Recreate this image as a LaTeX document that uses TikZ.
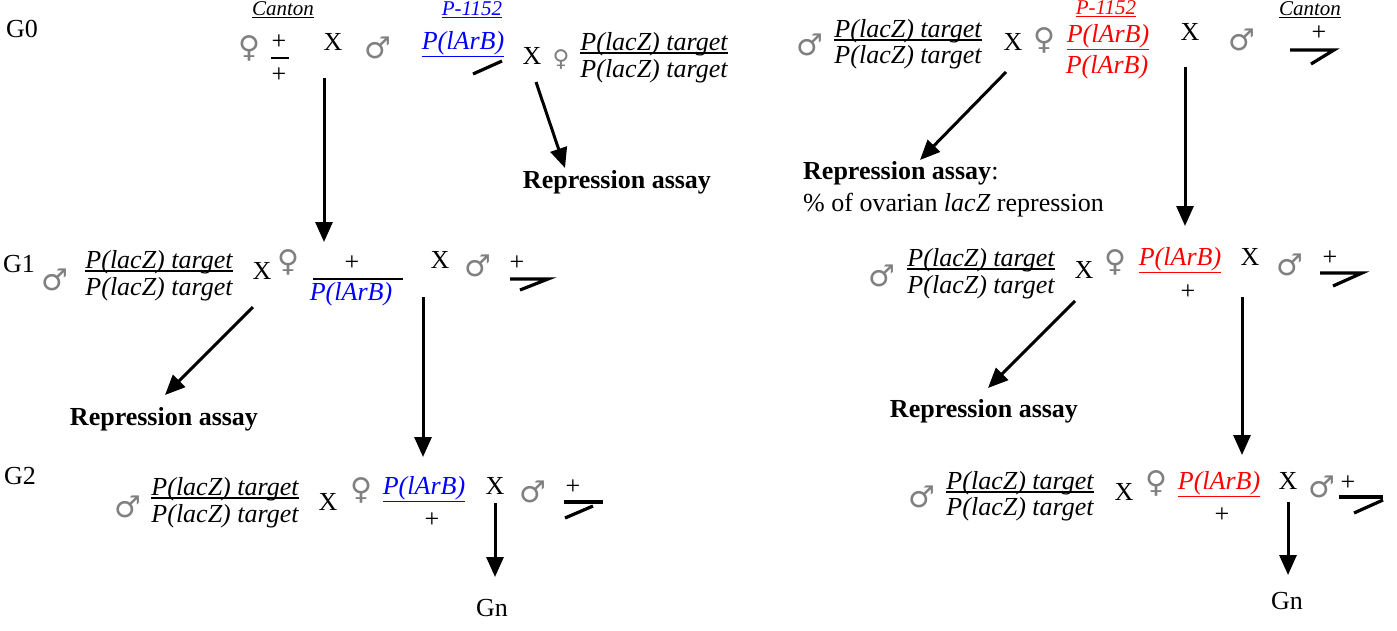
\documentclass[tikz,border=0pt]{standalone}
\usepackage{fontspec}
\setmainfont{Liberation Serif}
\newfontfamily\symf{DejaVu Sans}
\usetikzlibrary{arrows.meta}
\newcommand\fmain{\fontsize{26}{30}\selectfont}
\newcommand\fsmall{\fontsize{21}{24}\selectfont}
\begin{document}
\begin{tikzpicture}[x=1pt,y=-1pt,
  tx/.style={inner sep=0pt, font=\fmain, text height=0.69em, text depth=0.22em},
  itx/.style={tx, font=\fmain\itshape},
  sm/.style={inner sep=0pt, font=\fsmall\itshape, text height=0.69em, text depth=0.22em},
  bfx/.style={tx, font=\fmain\bfseries},
  sx/.style={inner sep=0pt, font=\symf\fontsize{30}{32}\selectfont, text=black!50},
  sxs/.style={sx, font=\symf\fontsize{23}{25}\selectfont},
  arr/.style={line width=3pt, -{Triangle[length=20pt,width=17pt]}},
  bar/.style={line width=1.7pt},
  bal/.style={line width=3.2pt},
  blu/.style={text=blue},
  rd/.style={text=red}]
\fill[white] (0,0) rectangle (1397,630);
\useasboundingbox (0,0) rectangle (1397,630);

% ---------- G0 left ----------
\node[tx] (g0) at (22,35) {G0};
\node[sm] (can1) at (283,13) {\underline{Canton}};
\node[sx] (fe0) at (249,48) {♀};
\node[tx] (p0a) at (279,47) {+};
\draw[bar] (271,58) -- (289,58);
\node[tx] (p0b) at (279,80) {+};
\node[tx] (x0a) at (333,48) {X};
\node[sx] (ma0) at (378,48) {♂};
\node[sm,blu] (pb1) at (472,13) {\underline{P-1152}};
\node[itx,blu] (pl1) at (463,47) {\underline{P(lArB)}};
\draw[bal] (473,74) -- (502,61);
\node[tx] (x0b) at (532,62) {X};
\node[sxs] (fe0b) at (561,60) {♀};
\node[itx] (fr0n) at (654,48) {P(lacZ) target};
\node[itx] (fr0d) at (654,75) {P(lacZ) target};
\draw[bar] (fr0n.south west) -- (fr0n.south east);
\coordinate (a0s) at (324,78);
\coordinate (a0e) at (324,242);
\coordinate (a1s) at (536,82);
\coordinate (a1e) at (565,168);
\draw[arr] (a0s) -- (a0e);
\draw[arr] (a1s) -- (a1e);
\node[bfx] (ra0) at (617,186) {Repression assay};

% ---------- G0 right ----------
\node[sx] (ma1) at (810,45) {♂};
\node[itx] (fr1n) at (908,35) {P(lacZ) target};
\node[itx] (fr1d) at (908,61) {P(lacZ) target};
\draw[bar] (fr1n.south west) -- (fr1n.south east);
\node[tx] (x1a) at (1013,48) {X};
\node[sx] (fe1) at (1044,40) {♀};
\node[sm,rd] (pb2) at (1106,12) {\underline{P-1152}};
\node[itx,rd] (pl2) at (1108,40) {\underline{P(lArB)}};
\node[itx,rd] (pl2b) at (1107,71) {P(lArB)};
\node[tx] (x1b) at (1190,38) {X};
\node[sx] (ma1b) at (1242,40) {♂};
\node[sm] (can2) at (1310,13) {\underline{Canton}};
\node[tx] (p1) at (1319,38) {+};
\draw[bal] (1290,50) -- (1334,50) -- (1311,64);
\coordinate (a2s) at (1006,72);
\coordinate (a2e) at (920,160);
\coordinate (a3s) at (1185,67);
\coordinate (a3e) at (1185,226);
\draw[arr] (a2s) -- (a2e);
\draw[arr] (a3s) -- (a3e);
\node[tx, anchor=west] (ra1) at (803,177) {\textbf{Repression assay}:};
\node[tx, anchor=west] (ov1) at (803,209) {\% of ovarian \textit{lacZ} repression};

% ---------- G1 left ----------
\node[tx] (g1) at (19,270) {G1};
\node[sx] (ma2) at (55,280) {♂};
\node[itx] (fr2n) at (159,266) {P(lacZ) target};
\node[itx] (fr2d) at (159,293) {P(lacZ) target};
\draw[bar] (fr2n.south west) -- (fr2n.south east);
\node[tx] (x2a) at (262,277) {X};
\node[sx] (fe2) at (288,262) {♀};
\node[tx] (p2) at (352,268) {+};
\draw[bar] (313,279) -- (403,279);
\node[itx,blu] (pl3) at (351,298) {P(lArB)};
\node[tx] (x2b) at (440,266) {X};
\node[sx] (ma2b) at (478,266) {♂};
\node[tx] (p2b) at (517,268) {+};
\draw[bal] (510,279) -- (548,279) -- (520,290);
\coordinate (a4s) at (253,307);
\coordinate (a4e) at (165,395);
\coordinate (a5s) at (423,297);
\coordinate (a5e) at (423,457);
\draw[arr] (a4s) -- (a4e);
\draw[arr] (a5s) -- (a5e);
\node[bfx] (ra2) at (164,423) {Repression assay};

% ---------- G1 right ----------
\node[sx] (ma3) at (882,276) {♂};
\node[itx] (fr3n) at (981,264) {P(lacZ) target};
\node[itx] (fr3d) at (981,291) {P(lacZ) target};
\draw[bar] (fr3n.south west) -- (fr3n.south east);
\node[tx] (x3a) at (1084,276) {X};
\node[sx] (fe3) at (1115,262) {♀};
\node[itx,rd] (pl4) at (1180,263) {\underline{P(lArB)}};
\node[tx] (p3) at (1188,297) {+};
\node[tx] (x3b) at (1250,263) {X};
\node[sx] (ma3b) at (1290,265) {♂};
\node[tx] (p3b) at (1330,263) {+};
\draw[bal] (1320,273) -- (1362,273) -- (1333,286);
\coordinate (a6s) at (1075,301);
\coordinate (a6e) at (988,388);
\coordinate (a7s) at (1242,297);
\coordinate (a7e) at (1242,455);
\draw[arr] (a6s) -- (a6e);
\draw[arr] (a7s) -- (a7e);
\node[bfx] (ra3) at (984,415) {Repression assay};

% ---------- G2 left ----------
\node[tx] (g2) at (20,482) {G2};
\node[sx] (ma4) at (128,507) {♂};
\node[itx] (fr4n) at (225,493) {P(lacZ) target};
\node[itx] (fr4d) at (225,520) {P(lacZ) target};
\draw[bar] (fr4n.south west) -- (fr4n.south east);
\node[tx] (x4a) at (328,508) {X};
\node[sx] (fe4) at (361,490) {♀};
\node[itx,blu] (pl5) at (424,492) {\underline{P(lArB)}};
\node[tx] (p4) at (432,525) {+};
\node[tx] (x4b) at (495,492) {X};
\node[sx] (ma4b) at (533,492) {♂};
\node[tx] (p4b) at (573,492) {+};
\draw[bal] (564,502) -- (603,502);
\draw[bal] (565,518) -- (593,506);
\coordinate (a8s) at (495,503);
\coordinate (a8e) at (495,577);
\draw[arr] (a8s) -- (a8e);
\node[tx] (gn1) at (492,614) {Gn};

% ---------- G2 right ----------
\node[sx] (ma5) at (922,497) {♂};
\node[itx] (fr5n) at (1020,487) {P(lacZ) target};
\node[itx] (fr5d) at (1020,513) {P(lacZ) target};
\draw[bar] (fr5n.south west) -- (fr5n.south east);
\node[tx] (x5a) at (1124,498) {X};
\node[sx] (fe5) at (1156,483) {♀};
\node[itx,rd] (pl6) at (1219,487) {\underline{P(lArB)}};
\node[tx] (p5) at (1222,520) {+};
\node[tx] (x5b) at (1288,487) {X};
\node[sx] (ma5b) at (1322,487) {♂};
\node[tx] (p5b) at (1348,488) {+};
\draw[bal] (1339,497) -- (1383,497);
\draw[bal] (1354,513) -- (1383,500);
\coordinate (a9s) at (1288,502);
\coordinate (a9e) at (1288,575);
\draw[arr] (a9s) -- (a9e);
\node[tx] (gn2) at (1287,607) {Gn};
\end{tikzpicture}
\end{document}
